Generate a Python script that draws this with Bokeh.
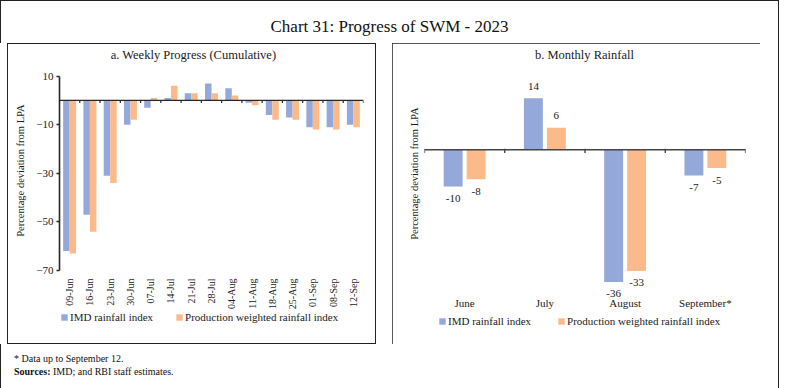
import math
from bokeh.plotting import figure
from bokeh.models import (ColumnDataSource, FactorRange, Range1d, FixedTicker, Span,
                          Legend, LegendItem, LabelSet, Label, Div, Title)
from bokeh.transform import dodge
from bokeh.layouts import column, row
from bokeh.embed import file_html
from bokeh.resources import INLINE

# ---------------- data ----------------
weeks = ["09-Jun", "16-Jun", "23-Jun", "30-Jun", "07-Jul", "14-Jul", "21-Jul", "28-Jul",
         "04-Aug", "11-Aug", "18-Aug", "25-Aug", "01-Sep", "08-Sep", "12-Sep"]
imd_weekly = [-62, -47, -31, -10, -3, 1, 3, 7, 5, -1, -6, -7, -11, -11, -10]
pwri_weekly = [-63, -54, -34, -8, 1, 6, 3, 3, 2, -2, -8, -8, -12, -12, -11]
weekly_y_ticks = [-70, -50, -30, -10, 10]

months = ["June", "July", "August", "September*"]
imd_monthly = [-10, 14, -36, -7]
pwri_monthly = [-8, 6, -33, -5]

series_names = ["IMD rainfall index", "Production weighted rainfall index"]
chart_title = "Chart 31: Progress of SWM - 2023"
panel_a_title = "a. Weekly Progress (Cumulative)"
panel_b_title = "b.  Monthly Rainfall"
y_title = "Percentage deviation from LPA"
footnote_1 = "* Data up to September 12."
footnote_2 = "IMD; and RBI staff estimates."

# ---------------- style ----------------
FONT = "Liberation Serif"
BLUE = "#94A9DA"
ORANGE = "#FCBA8B"
AXIS = "#262626"
TEXT = "#1a1a1a"
OUTLINE = {"outline": "1px solid #222", "outline-offset": "-1px"}
# panel a box starts 7px inside its figure (white band + 1px line)
OUTLINE_A = {"box-shadow": "inset 7px 0 0 0 #fff, inset 8px 0 0 0 #222, inset 0 0 0 1px #222"}

# visible plot windows (layout only)
Y1 = (-99.6, 22.6)     # panel a: axis drawn over -70..10
Y2 = (-52.5, 28.4)     # panel b


def base_style(p):
    p.xgrid.visible = False
    p.ygrid.visible = False
    p.outline_line_color = None
    p.background_fill_color = "white"
    p.border_fill_color = None


def y_title_obj(offset, standoff):
    return Title(text=y_title, align="right", offset=offset, standoff=standoff,
                 text_font=FONT, text_font_size="10.5px", text_font_style="normal",
                 text_color=TEXT)


def make_legend(renderers, location, spacing):
    return Legend(items=[LegendItem(label=n, renderers=[r]) for n, r in zip(series_names, renderers)],
                  orientation="horizontal", location=location, glyph_width=8, glyph_height=8,
                  label_standoff=2, spacing=spacing, padding=0, margin=0, label_height=12,
                  background_fill_alpha=0, border_line_color=None,
                  label_text_font=FONT, label_text_font_size="11px", label_text_color=TEXT)


def subtitle(text, x, y, dx):
    return Label(x=x, y=y, x_offset=dx, y_offset=-9, text=text, text_align="center",
                 text_baseline="middle", text_font=FONT, text_font_size="12.5px",
                 text_color=TEXT)


# ---------------- panel a ----------------
src_w = ColumnDataSource(dict(week=weeks, imd=imd_weekly, pwri=pwri_weekly))
p1 = figure(width=376, height=301, x_range=FactorRange(factors=weeks, range_padding=0),
            y_range=Range1d(*Y1), output_backend="svg", toolbar_location=None,
            x_axis_location=None,
            min_border_left=59, min_border_right=13, min_border_top=2, min_border_bottom=2)
base_style(p1)

r1a = p1.vbar(x=dodge("week", -0.16, range=p1.x_range), top="imd", width=0.32,
              source=src_w, fill_color=BLUE, line_color=None)
r1b = p1.vbar(x=dodge("week", 0.16, range=p1.x_range), top="pwri", width=0.32,
              source=src_w, fill_color=ORANGE, line_color=None)

p1.add_layout(Span(location=0, dimension="width", line_color=AXIS, line_width=1.3))
bounds_w = ColumnDataSource(dict(x=[[w, -0.5] for w in weeks] + [[weeks[-1], 0.5]]))
p1.segment(x0="x", y0=0, x1="x", y1=-1.1, source=bounds_w, line_color=AXIS, line_width=1.2)

ax = p1.yaxis[0]
ax.ticker = FixedTicker(ticks=weekly_y_ticks)
ax.bounds = (min(weekly_y_ticks), max(weekly_y_ticks))
ax.axis_line_color = AXIS
ax.axis_line_width = 1.6
ax.major_tick_line_color = AXIS
ax.major_tick_line_width = 1.3
ax.major_tick_out = 3
ax.major_tick_in = 0
ax.minor_tick_line_color = None
ax.major_label_standoff = 3
ax.major_label_text_font = FONT
ax.major_label_text_color = TEXT
ax.major_label_text_font_size = "11px"
p1.add_layout(y_title_obj(59, 16), "left")

# category labels (rotated), hung just under the lowest tick of the value axis
p1.add_layout(LabelSet(x="week", y=min(weekly_y_ticks), y_offset=-8, text="week", source=src_w,
                       angle=math.pi / 2, text_align="right", text_baseline="middle",
                       text_font=FONT, text_font_size="10px", text_color=TEXT))

p1.add_layout(subtitle(panel_a_title, len(weeks) / 2, Y1[1], -18))
p1.add_layout(make_legend([r1a, r1b], (1, 19), 22))

# ---------------- panel b ----------------
src_m = ColumnDataSource(dict(
    month=months, imd=imd_monthly, pwri=pwri_monthly,
    imd_txt=[str(v) for v in imd_monthly], pwri_txt=[str(v) for v in pwri_monthly],
    imd_off=[12 if v > 0 else -12 for v in imd_monthly],
    pwri_off=[12 if v > 0 else -12 for v in pwri_monthly]))

p2 = figure(width=368, height=301, x_range=FactorRange(factors=months, range_padding=0),
            y_range=Range1d(*Y2), output_backend="svg", toolbar_location=None,
            x_axis_location=None, y_axis_location=None,
            min_border_left=32, min_border_right=15, min_border_top=2, min_border_bottom=2)
base_style(p2)
p2.border_fill_color = "white"

r2a = p2.vbar(x=dodge("month", -0.143, range=p2.x_range), top="imd", width=0.236,
              source=src_m, fill_color=BLUE, line_color=None)
r2b = p2.vbar(x=dodge("month", 0.143, range=p2.x_range), top="pwri", width=0.236,
              source=src_m, fill_color=ORANGE, line_color=None)

p2.add_layout(Span(location=0, dimension="width", line_color="#444444", line_width=1.3))
bounds_m = ColumnDataSource(dict(x=[[m, -0.5] for m in months] + [[months[-1], 0.5]]))
p2.segment(x0="x", y0=0.3, x1="x", y1=-0.9, source=bounds_m, line_color=AXIS, line_width=1.2)

for col, txt, off, dx in (("imd", "imd_txt", "imd_off", -0.143), ("pwri", "pwri_txt", "pwri_off", 0.143)):
    p2.add_layout(LabelSet(x=dodge("month", dx, range=p2.x_range), y=col, text=txt,
                           y_offset=off, source=src_m, text_align="center",
                           text_baseline="middle", text_font=FONT, text_font_size="11px",
                           text_color=TEXT))

p2.add_layout(y_title_obj(62, 10), "left")

p2.add_layout(LabelSet(x="month", y=Y2[0], y_offset=40, text="month", source=src_m,
                       text_align="center", text_baseline="middle",
                       text_font=FONT, text_font_size="11px", text_color=TEXT))

p2.add_layout(subtitle(panel_b_title, len(months) / 2, Y2[1], 1))
p2.add_layout(make_legend([r2a, r2b], (14, 15), 26))

p1.styles = OUTLINE_A
p2.styles = OUTLINE

# ---------------- page ----------------
title_div = Div(text=f'<div style="text-align:center;font-family:\'{FONT}\';font-size:17px;'
                     f'color:#111;padding:10px 0 0 7px;width:762px">{chart_title}</div>',
                width=769, height=33)
foot_div = Div(text=f'<div style="font-family:\'{FONT}\';font-size:10px;line-height:13px;'
                    f'color:#111;padding:3px 0 0 9px">{footnote_1}<br><b>Sources:</b> {footnote_2}</div>',
               width=769, height=38)

panels = row(p1, p2, spacing=16)
layout = column(title_div, panels, foot_div, styles=OUTLINE)

open("out.html", "w").write(file_html(layout, INLINE))
